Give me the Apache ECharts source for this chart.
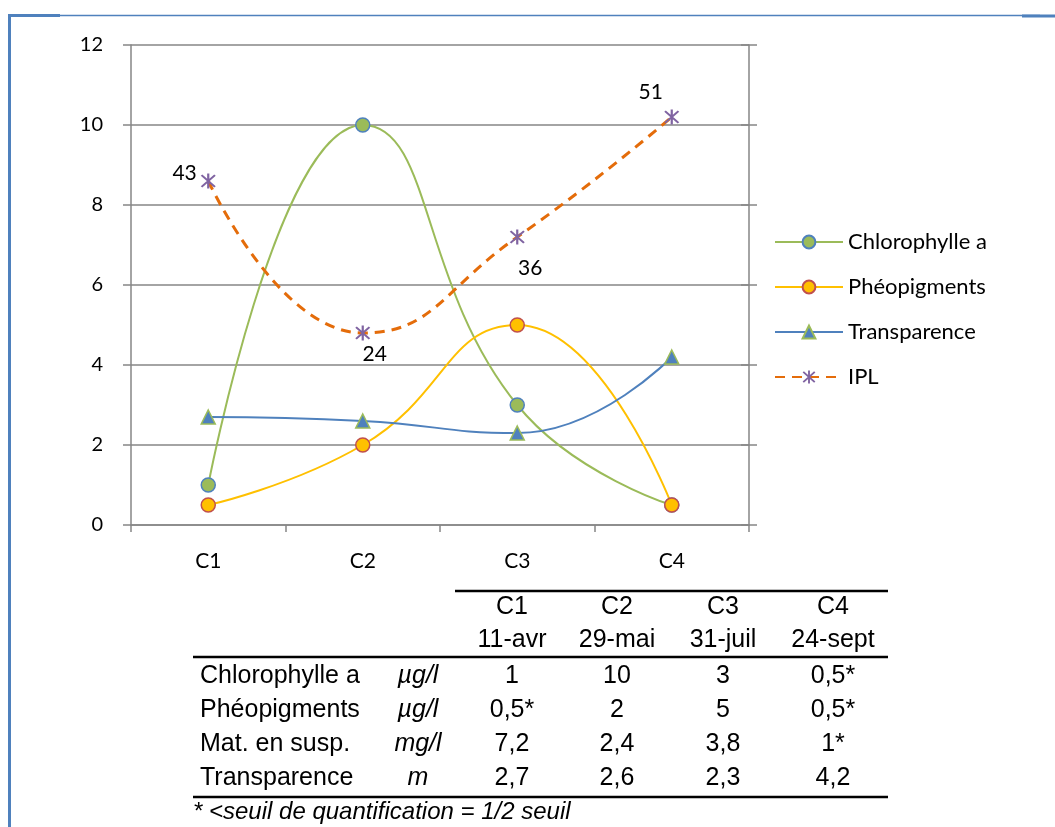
<!DOCTYPE html>
<html><head><meta charset="utf-8">
<script src="https://cdn.jsdelivr.net/npm/echarts@6/dist/echarts.min.js"></script>
<style>html,body{margin:0;padding:0;background:#fff}#c{width:1055px;height:827px}</style>
</head><body><div id="c"></div>
<script>
const categories = ['C1','C2','C3','C4'];
const chloro = [1, 10, 3, 0.5];
const pheo = [0.5, 2, 5, 0.5];
const transp = [2.7, 2.6, 2.3, 4.2];
const ipl = [43, 24, 36, 51];
const yTicks = [0, 2, 4, 6, 8, 10, 12];

// table content
const tabHead1 = ['C1','C2','C3','C4'];
const tabHead2 = ['11-avr','29-mai','31-juil','24-sept'];
const tabRowNames = ['Chlorophylle a','Phéopigments','Mat. en susp.','Transparence'];
const tabUnits = ['µg/l','µg/l','mg/l','m'];
const tabValues = [
  ['1','10','3','0,5*'],
  ['0,5*','2','5','0,5*'],
  ['7,2','2,4','3,8','1*'],
  ['2,7','2,6','2,3','4,2']
];
const footnote = '* <seuil de quantification = 1/2 seuil';

const FONT = 'Lato, "Open Sans", sans-serif';
const TFONT = '"Liberation Sans", Arial, sans-serif';
const grey = '#868686';

const iplLabel = [
  {position:'left', offset:[1,-8]},
  {position:'bottom', offset:[12,-2]},
  {position:'bottom', offset:[13,8]},
  {position:'top', offset:[-21,-2]}
];
const asterisk = 'path://M4.35 0H5.65V10H4.35Z M0.6 1.5L1.5 0.6L9.4 8.5L8.5 9.4Z M8.5 0.6L9.4 1.5L1.5 9.4L0.6 8.5Z';

// table graphic
const g = [];
const colX = [512, 617, 723, 833];
const rowY = [676, 710, 744, 778];
const tStyle = (x, y, text, align, extra) => ({type:'text', x:x, y:y, style:Object.assign({text:text, x:0, y:0, fill:'#000', font:'25px ' + TFONT, textAlign:align, textVerticalAlign:'middle'}, extra||{})});
const line = (x1,y1,x2,y2,w,c) => ({type:'line', shape:{x1:x1,y1:y1,x2:x2,y2:y2}, style:{stroke:c||'#000', lineWidth:w||2}});
g.push(line(455,591,888,591,2.5));
g.push(line(193,657,888,657,2.5));
g.push(line(193,797,888,797,2.5));
tabHead1.forEach((t,i)=>g.push(tStyle(colX[i],607,t,'center')));
tabHead2.forEach((t,i)=>g.push(tStyle(colX[i],640,t,'center')));
tabRowNames.forEach((t,i)=>{
  g.push(tStyle(200,rowY[i],t,'left'));
  g.push(tStyle(418,rowY[i],tabUnits[i],'center',{font:'italic 25px ' + TFONT}));
  tabValues[i].forEach((v,j)=>g.push(tStyle(colX[j],rowY[i],v,'center')));
});
g.push(tStyle(193,812,footnote,'left',{font:'italic 24px ' + TFONT}));
// outer frame
g.push(line(8,15.5,1040,15.5,1.5,'#4F81BD'));
g.push(line(8,15.5,60,15.5,3,'#4F81BD'));
g.push(line(1022,16,1055,16,3,'#4F81BD'));
g.push(line(9.5,14,9.5,827,3,'#4F81BD'));

const chart = echarts.init(document.getElementById('c'), null, {renderer:'canvas'});
chart.setOption({
  animation:false,
  backgroundColor:'#fff',
  grid:{left:131, right:306, top:45, bottom:302, containLabel:false},
  legend:{
    orient:'vertical', left:769, top:226, itemWidth:68, itemHeight:16, itemGap:23,
    textStyle:{fontFamily:FONT, fontSize:22, lineHeight:22, color:'#000', padding:[0,0,0,0]},
    data:['Chlorophylle a','Phéopigments','Transparence','IPL']
  },
  xAxis:{
    type:'category', data:categories, boundaryGap:true,
    axisLine:{lineStyle:{color:grey, width:1.5}},
    axisTick:{show:true, length:7, lineStyle:{color:grey, width:1.5}},
    axisLabel:{color:'#000', fontFamily:FONT, fontSize:21, margin:26}
  },
  yAxis:[
    {type:'value', min:yTicks[0], max:yTicks[yTicks.length-1], interval:2,
     axisLine:{show:true, lineStyle:{color:grey, width:1.5}},
     axisTick:{show:true, length:8, lineStyle:{color:grey, width:1.5}},
     splitLine:{show:true, lineStyle:{color:grey, width:1.5}},
     axisLabel:{color:'#000', fontFamily:FONT, fontSize:20, margin:28}},
    {type:'value', position:'right', min:0, max:60, interval:10,
     axisLine:{show:true, lineStyle:{color:grey, width:1.5}},
     axisTick:{show:true, length:8, lineStyle:{color:grey, width:1.5}},
     splitLine:{show:false}, axisLabel:{show:false}},
    {type:'value', position:'right', min:0, max:60, interval:10,
     axisLine:{show:false},
     axisTick:{show:true, inside:true, length:8, lineStyle:{color:grey, width:1.5}},
     splitLine:{show:false}, axisLabel:{show:false}}
  ],
  series:[
    {name:'Chlorophylle a', type:'line', data:chloro, smooth:0.5, symbol:'circle', symbolSize:14,
     lineStyle:{color:'#9BBB59', width:2}, itemStyle:{color:'#9BBB59', borderColor:'#4F81BD', borderWidth:1.5}},
    {name:'Phéopigments', type:'line', data:pheo, smooth:0.5, symbol:'circle', symbolSize:14,
     lineStyle:{color:'#FFC000', width:2}, itemStyle:{color:'#FFC000', borderColor:'#C0504D', borderWidth:1.5}},
    {name:'Transparence', type:'line', data:transp, smooth:0.5, symbol:'triangle', symbolSize:14,
     lineStyle:{color:'#4F81BD', width:2}, itemStyle:{color:'#4F81BD', borderColor:'#9BBB59', borderWidth:1.5}},
    {name:'IPL', type:'line', yAxisIndex:1, smooth:0.5, symbol:asterisk, symbolSize:15,
     data:ipl.map((v,i)=>({value:v, label:iplLabel[i]})),
     lineStyle:{color:'#E46C0A', width:3, type:[10,7]},
     itemStyle:{color:'#8064A2'},
     label:{show:true, color:'#000', fontFamily:FONT, fontSize:21, distance:5}}
  ],
  graphic:g
});
</script></body></html>
